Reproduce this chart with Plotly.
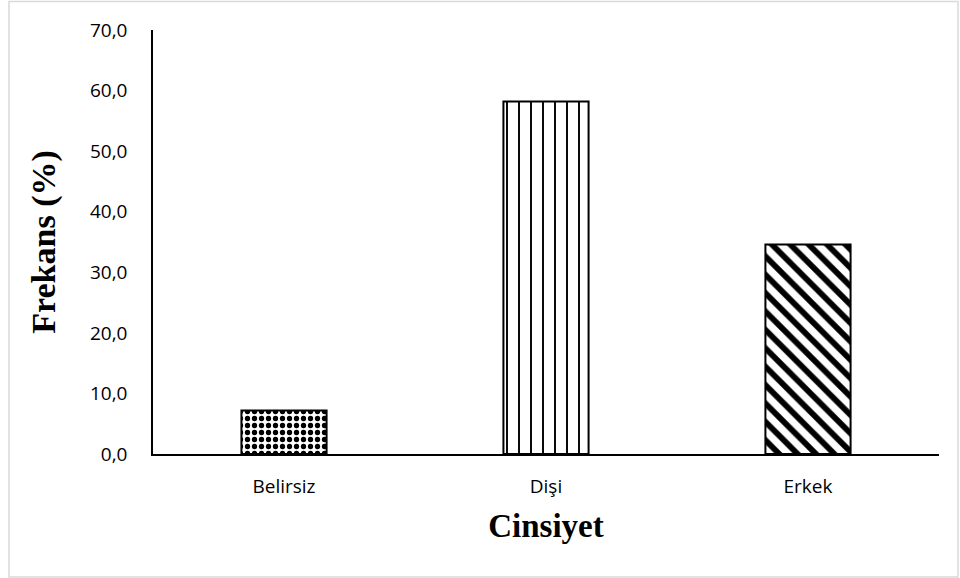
import plotly.graph_objects as go

categories = ["Belirsiz", "Dişi", "Erkek"]
values = [7.2, 58.2, 34.6]
patterns = [".", "|", "\\"]
pattern_sizes = [7, 12, 13]
pattern_solidity = [0.45, 0.16, 0.45]

fig = go.Figure()
fig.add_trace(go.Bar(
    x=categories, y=values, width=0.325,
    marker=dict(
        color="white",
        line=dict(color="black", width=2),
        pattern=dict(shape=patterns, fgcolor="black", bgcolor="white", fgopacity=1,
                     size=pattern_sizes, solidity=pattern_solidity, fillmode="replace"),
    ),
))

L, R, T, B = 153, 21, 30, 124
W, H = 960, 578
pw, ph = W - L - R, H - T - B

fig.update_layout(
    width=W, height=H,
    margin=dict(l=L, r=R, t=T, b=B),
    paper_bgcolor="white", plot_bgcolor="white",
    separators=",.",
    showlegend=False,
    font=dict(family="Open Sans, sans-serif", size=19, color="black"),
    xaxis=dict(
        showline=True, linecolor="black", linewidth=1.5, ticks="",
        tickfont=dict(size=19), showgrid=False, ticklabelstandoff=14,
        title=dict(text="<b>Cinsiyet</b>", font=dict(family="Liberation Serif", size=33, color="black"), standoff=16),
    ),
    yaxis=dict(
        range=[0, 70], dtick=10, tickformat=".1f",
        showline=True, linecolor="black", linewidth=1.5, ticks="",
        showgrid=False, zeroline=False, tickfont=dict(size=19),
        ticklabelstandoff=20,
        title=dict(text="<b>Frekans (%)</b>", font=dict(family="Liberation Serif", size=34, color="black"), standoff=24),
    ),
    shapes=[dict(
        type="rect", xref="paper", yref="paper",
        x0=(9 - L) / pw, x1=(958 - L) / pw,
        y0=(H - B - 577) / ph, y1=(H - B - 1.5) / ph,
        line=dict(color="#d9d9d9", width=1.5), fillcolor="rgba(0,0,0,0)", layer="below",
    )],
)

fig.write_html("out.html", config={"displayModeBar": False},
               post_script="document.body.style.margin='0px';")
